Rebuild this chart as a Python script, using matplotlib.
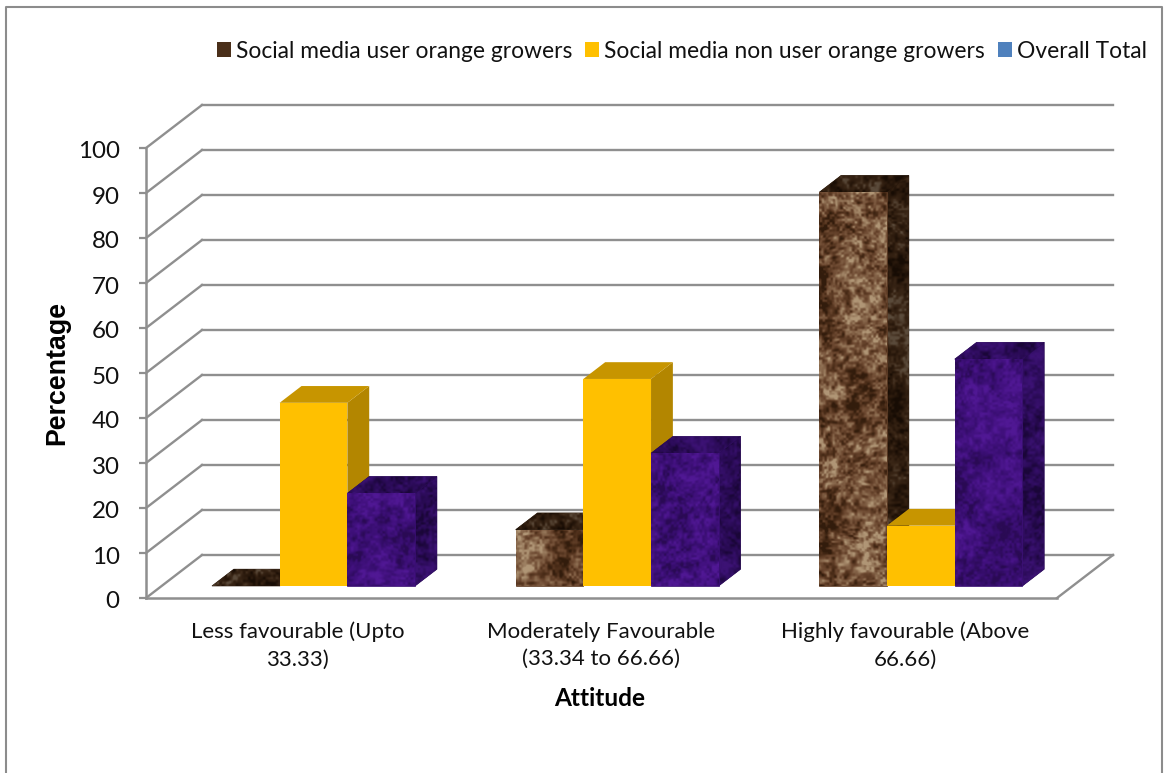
import numpy as np
import matplotlib
matplotlib.use('Agg')
import matplotlib.pyplot as plt
from matplotlib.colors import LinearSegmentedColormap
from matplotlib.lines import Line2D
from matplotlib.patches import Patch, Polygon
from matplotlib.transforms import ScaledTranslation

plt.rcParams['font.family'] = ['Lato', 'DejaVu Sans']

categories = ['Less favourable (Upto\n33.33)',
              'Moderately Favourable\n(33.34 to 66.66)',
              'Highly favourable (Above\n66.66)']
user_vals = [0, 12.5, 87.5]
non_user_vals = [40.7, 46, 13.4]
total_vals = [20.6, 29.5, 50.4]
series_names = ['Social media user orange growers',
                'Social media non user orange growers',
                'Overall Total']
y_ticks = list(range(0, 101, 10))

W, H = 1168, 773
GRID = '#8f8f8f'
# wall depth, in data units (3 categories over 911 px, 100 % over 450 px)
DEPTH_X = 56 / 911 * 3
DEPTH_Y = 43 / 450 * 100
BAR_W = 67.7 / 911 * 3
BAR_NEAR, BAR_FAR = 0.28, 0.67

BROWN = LinearSegmentedColormap.from_list('brown', ['#321c0c', '#4e2f1a', '#6c4830', '#8a6a4e', '#b09676'])
BROWN_DK = LinearSegmentedColormap.from_list('brown_dk', ['#170c04', '#2a190c', '#3a2616', '#5a4a3a'])
PURPLE = LinearSegmentedColormap.from_list('purple', ['#2a0a54', '#380e70', '#441282', '#501894'])
PURPLE_DK = LinearSegmentedColormap.from_list('purple_dk', ['#1a0638', '#280a52', '#320e64', '#3c1274'])


def noise_layer(xx, yy, cell, seed):
    """Smooth value noise, lattice values come from a sine hash."""
    gx, gy = xx / cell, yy / cell
    ix, iy = np.floor(gx), np.floor(gy)
    fx, fy = gx - ix, gy - iy
    fx, fy = fx * fx * (3 - 2 * fx), fy * fy * (3 - 2 * fy)

    def corner(a, b):
        v = np.sin((ix + a) * 12.9898 + (iy + b) * 78.233 + seed * 37.7) * 43758.5453
        return v - np.floor(v)

    top = corner(0, 0) * (1 - fx) + corner(1, 0) * fx
    bot = corner(0, 1) * (1 - fx) + corner(1, 1) * fx
    return top * (1 - fy) + bot * fy


def marble(w, h, seed):
    """Blotchy stone look: large patches plus fine grain."""
    yy, xx = np.mgrid[0:h, 0:w].astype(float)
    wx = xx + 6 * noise_layer(xx, yy, 30, seed + 5)
    wy = yy + 6 * noise_layer(xx, yy, 30, seed + 9)
    tex = (1.0 * noise_layer(wx, wy, 46, seed) + 0.6 * noise_layer(wx, wy, 17, seed + 1)
           + 0.9 * noise_layer(wx, wy, 6, seed + 2) + 0.8 * noise_layer(wx, wy, 2.5, seed + 3))
    lo, hi = np.percentile(tex, [2, 98])
    return np.clip((tex - lo) / (hi - lo + 1e-9), 0, 1)


def panel(ax, pts, color, z, seed=0):
    """Draw one face of a bar, flat colour or textured (colormap)."""
    if not hasattr(color, 'N'):
        ax.add_patch(Polygon(pts, fc=color, ec='none', zorder=z, clip_on=False))
        return
    # flat underlay hides the light seam the image clip leaves at its edge
    ax.add_patch(Polygon(pts, fc=color(0.4), ec=color(0.4), lw=0.5, zorder=z, clip_on=False))
    pts = np.array(pts)
    x0, y0 = pts.min(axis=0)
    x1, y1 = pts.max(axis=0)
    w = max(int((x1 - x0) * 911 / 3), 2)
    h = max(int((y1 - y0) * 4.5), 2)
    im = ax.imshow(marble(w, h, seed), extent=[x0, x1, y0, y1], cmap=color, vmin=0, vmax=1,
                   aspect='auto', zorder=z + 0.05, interpolation='bilinear')
    clip = Polygon(pts, fc='none', ec='none', transform=ax.transData)
    ax.add_patch(clip)
    clip.set_clip_on(False)
    im.set_clip_path(clip)


def draw_bar(ax, left, value, front, side, top, z, seed):
    nx, ny = BAR_NEAR * DEPTH_X, BAR_NEAR * DEPTH_Y
    fx, fy = BAR_FAR * DEPTH_X, BAR_FAR * DEPTH_Y
    right = left + BAR_W
    panel(ax, [(right + nx, ny), (right + fx, fy), (right + fx, value + fy), (right + nx, value + ny)],
          side, z, seed + 1)
    panel(ax, [(left + nx, value + ny), (right + nx, value + ny), (right + fx, value + fy), (left + fx, value + fy)],
          top, z + 0.1, seed + 2)
    if value > 0:
        panel(ax, [(left + nx, ny), (right + nx, ny), (right + nx, value + ny), (left + nx, value + ny)],
              front, z + 0.2, seed)


fig = plt.figure(figsize=(W / 100, H / 100), dpi=100)
ax = fig.add_axes([146 / W, 1 - 598 / H, 911 / W, 450 / H])
ax.set_xlim(0, 3)
ax.set_ylim(0, 100)
ax.patch.set_alpha(0)

# back wall and side wall
for v in y_ticks:
    ax.plot([DEPTH_X, 3 + DEPTH_X], [v + DEPTH_Y, v + DEPTH_Y], color=GRID, lw=1.7, clip_on=False, zorder=1)
    ax.plot([0, DEPTH_X], [v, v + DEPTH_Y], color=GRID, lw=1.7, clip_on=False, zorder=1)
ax.plot([3, 3 + DEPTH_X], [0, DEPTH_Y], color=GRID, lw=1.7, clip_on=False, zorder=1)

group_start = 0.5 - 1.5 * BAR_W
styles = [(BROWN, BROWN_DK, BROWN_DK),
          ('#FFC000', '#B38600', '#C79500'),
          (PURPLE, PURPLE_DK, PURPLE_DK)]
z = 3
for cat in range(len(categories)):
    for s, vals in enumerate([user_vals, non_user_vals, total_vals]):
        front, side, top = styles[s]
        draw_bar(ax, cat + group_start + s * BAR_W, vals[cat], front, side, top, z, seed=cat * 3.1 + s * 1.3)
        z += 1

for name in ['top', 'right']:
    ax.spines[name].set_visible(False)
for name in ['left', 'bottom']:
    ax.spines[name].set_color(GRID)
    ax.spines[name].set_linewidth(1.8)

ax.set_yticks(y_ticks)
ax.tick_params(axis='y', length=5, width=1.6, color=GRID, labelsize=17.4, pad=14, labelcolor='#111111')
nudge = ScaledTranslation(0, -2 / 100, fig.dpi_scale_trans)
for lab in ax.get_yticklabels():
    lab.set_transform(lab.get_transform() + nudge)
ax.set_xticks([0.5, 1.5, 2.5])
ax.set_xticklabels(categories, fontsize=16, color='#111111', linespacing=1.48)
ax.tick_params(axis='x', length=0, pad=17)

ax.set_ylabel('Percentage', fontsize=19.3, fontweight='bold', family='Liberation Sans', labelpad=0, va='center')
ax.yaxis.set_label_coords((57 - 146) / 911, 0.5)
fig.text(600 / W, 1 - 699 / H, 'Attitude', fontsize=17.6, fontweight='bold', ha='center', va='center')

handles = [Patch(fc='#4a2f1a', ec='none'), Patch(fc='#FFC000', ec='none'), Patch(fc='#4F81BD', ec='none')]
fig.legend(handles, series_names, loc='center right', bbox_to_anchor=(1147 / W, 1 - 51 / H), ncol=3,
           frameon=False, fontsize=16.4, handlelength=0.62, handleheight=0.62, handletextpad=0.22,
           columnspacing=0.57, borderpad=0, borderaxespad=0, labelcolor='#111111')

# outer chart frame, cut off at the bottom of the picture
frame = [(6, H), (6, 7), (1162, 7), (1162, H)]
fig.add_artist(Line2D([p[0] / W for p in frame], [1 - p[1] / H for p in frame],
                      color='#8c8c8c', lw=1.5, transform=fig.transFigure))

fig.savefig('out.png', dpi=100)
